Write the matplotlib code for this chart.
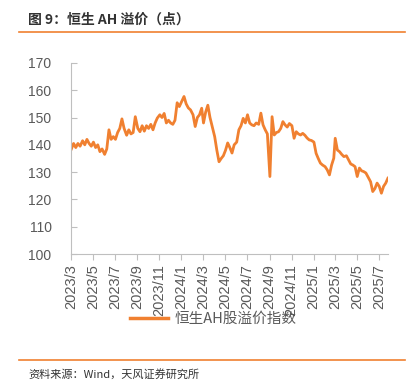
import pandas as pd
import matplotlib
matplotlib.use('Agg')
from matplotlib import pyplot as plt
from matplotlib.lines import Line2D

plt.rcParams['font.family'] = ['Liberation Sans', 'Noto Sans CJK SC']
cjk = ['Noto Sans CJK SC', 'DejaVu Sans']

# 恒生AH股溢价指数，按月给出约每周的读数
months = ['2023-03', '2023-04', '2023-05', '2023-06', '2023-07', '2023-08',
          '2023-09', '2023-10', '2023-11', '2023-12', '2024-01', '2024-02',
          '2024-03', '2024-04', '2024-05', '2024-06', '2024-07', '2024-08',
          '2024-09', '2024-10', '2024-11', '2024-12', '2025-01', '2025-02',
          '2025-03', '2025-04', '2025-05', '2025-06', '2025-07']
values = [
    [138.5, 140.5, 139.0, 140.5, 139.5],
    [141.5, 140.0, 142.0, 140.5, 139.5],
    [141.0, 139.0, 140.0, 137.5, 138.5],
    [136.5, 138.5, 145.5, 142.0, 143.0],
    [142.0, 144.5, 146.0, 149.5, 146.0],
    [143.5, 145.5, 144.0, 144.5, 150.3],
    [146.0, 144.8, 147.0, 145.0, 147.0],
    [146.0, 147.5, 145.5, 148.0, 149.8],
    [151.0, 150.0, 151.5, 148.0, 149.0],
    [148.0, 147.5, 149.0, 155.4, 154.0],
    [156.0, 157.7, 155.0, 153.5, 152.8],
    [151.0, 146.7, 150.0, 151.0, 153.4],
    [148.0, 152.0, 154.5, 150.0, 146.7],
    [143.0, 138.0, 133.8, 135.0, 136.0],
    [138.0, 140.7, 139.0, 137.0, 140.0],
    [141.0, 145.5, 147.0, 149.7, 148.0],
    [151.0, 148.0, 147.3, 147.0, 148.0],
    [147.5, 151.6, 147.3, 145.5, 144.0],
    [128.4, 150.3, 143.6, 144.5, 144.8],
    [146.0, 148.5, 147.3, 146.5, 147.8],
    [147.0, 142.4, 144.8, 144.0, 143.6],
    [144.2, 143.5, 142.5, 141.8, 141.6],
    [141.0, 136.9, 135.0, 133.3, 132.6],
    [132.0, 130.8, 129.0, 132.6, 135.1],
    [142.4, 138.1, 137.5, 136.5, 135.7],
    [136.0, 134.5, 133.0, 132.6, 132.0],
    [128.4, 131.5, 130.5, 130.2, 129.7],
    [128.0, 126.5, 122.9, 124.0, 126.0],
    [124.8, 122.3, 124.8, 126.0, 127.8],
]

dates = []
vals = []
for m, vs in zip(months, values):
    start = pd.Timestamp(m + '-01')
    for i, v in enumerate(vs):
        dates.append(start + pd.Timedelta(days=i * 6 + 1))
        vals.append(v)
df = pd.DataFrame({'date': dates, 'ah': vals})

orange = '#F08030'
gray = '#595959'

fig = plt.figure(figsize=(4.18, 3.81), dpi=100)
ax = fig.add_axes([0.170, 0.333, 0.758, 0.502])
ax.plot(df['date'], df['ah'], color=orange, lw=2.0)

ax.set_ylim(100, 170)
ax.set_yticks(range(100, 171, 10))
ax.set_xlim(pd.Timestamp('2023-03-01'), df['date'].iloc[-1])
ticks = pd.date_range('2023-03-01', '2025-07-01', freq='2MS')
ax.set_xticks(ticks)
ax.set_xticklabels([f'{t.year}/{t.month}' for t in ticks], rotation=90)

for s in ['top', 'right']:
    ax.spines[s].set_visible(False)
for s in ['left', 'bottom']:
    ax.spines[s].set_color('#BFBFBF')
ax.tick_params(axis='y', direction='in', length=4, color='#BFBFBF',
               labelsize=10, labelcolor=gray, pad=14)
ax.tick_params(axis='x', direction='out', length=4, color='#BFBFBF',
               labelsize=10.5, labelcolor=gray, pad=3)

handle = Line2D([], [], color=orange, lw=2.5)
fig.legend([handle], ['恒生AH股溢价指数'], loc='center',
           bbox_to_anchor=(0.51, 0.163), frameon=False,
           prop={'family': cjk, 'size': 10.5},
           labelcolor=gray, handlelength=2.6, handletextpad=0.4)

# 标题与来源
fig.text(0.067, 0.948, '图 9：恒生 AH 溢价（点）', fontsize=10, family=cjk,
         fontweight='bold', color='#333333', va='center')
fig.add_artist(Line2D([0.045, 0.969], [0.916, 0.916], color=orange, lw=1.2))
fig.add_artist(Line2D([0.045, 0.969], [0.055, 0.055], color=orange, lw=1.2))
fig.text(0.067, 0.018, '资料来源：Wind，天风证券研究所', fontsize=8, family=cjk,
         color='#333333', va='center')

fig.savefig('out.png', dpi=100)
